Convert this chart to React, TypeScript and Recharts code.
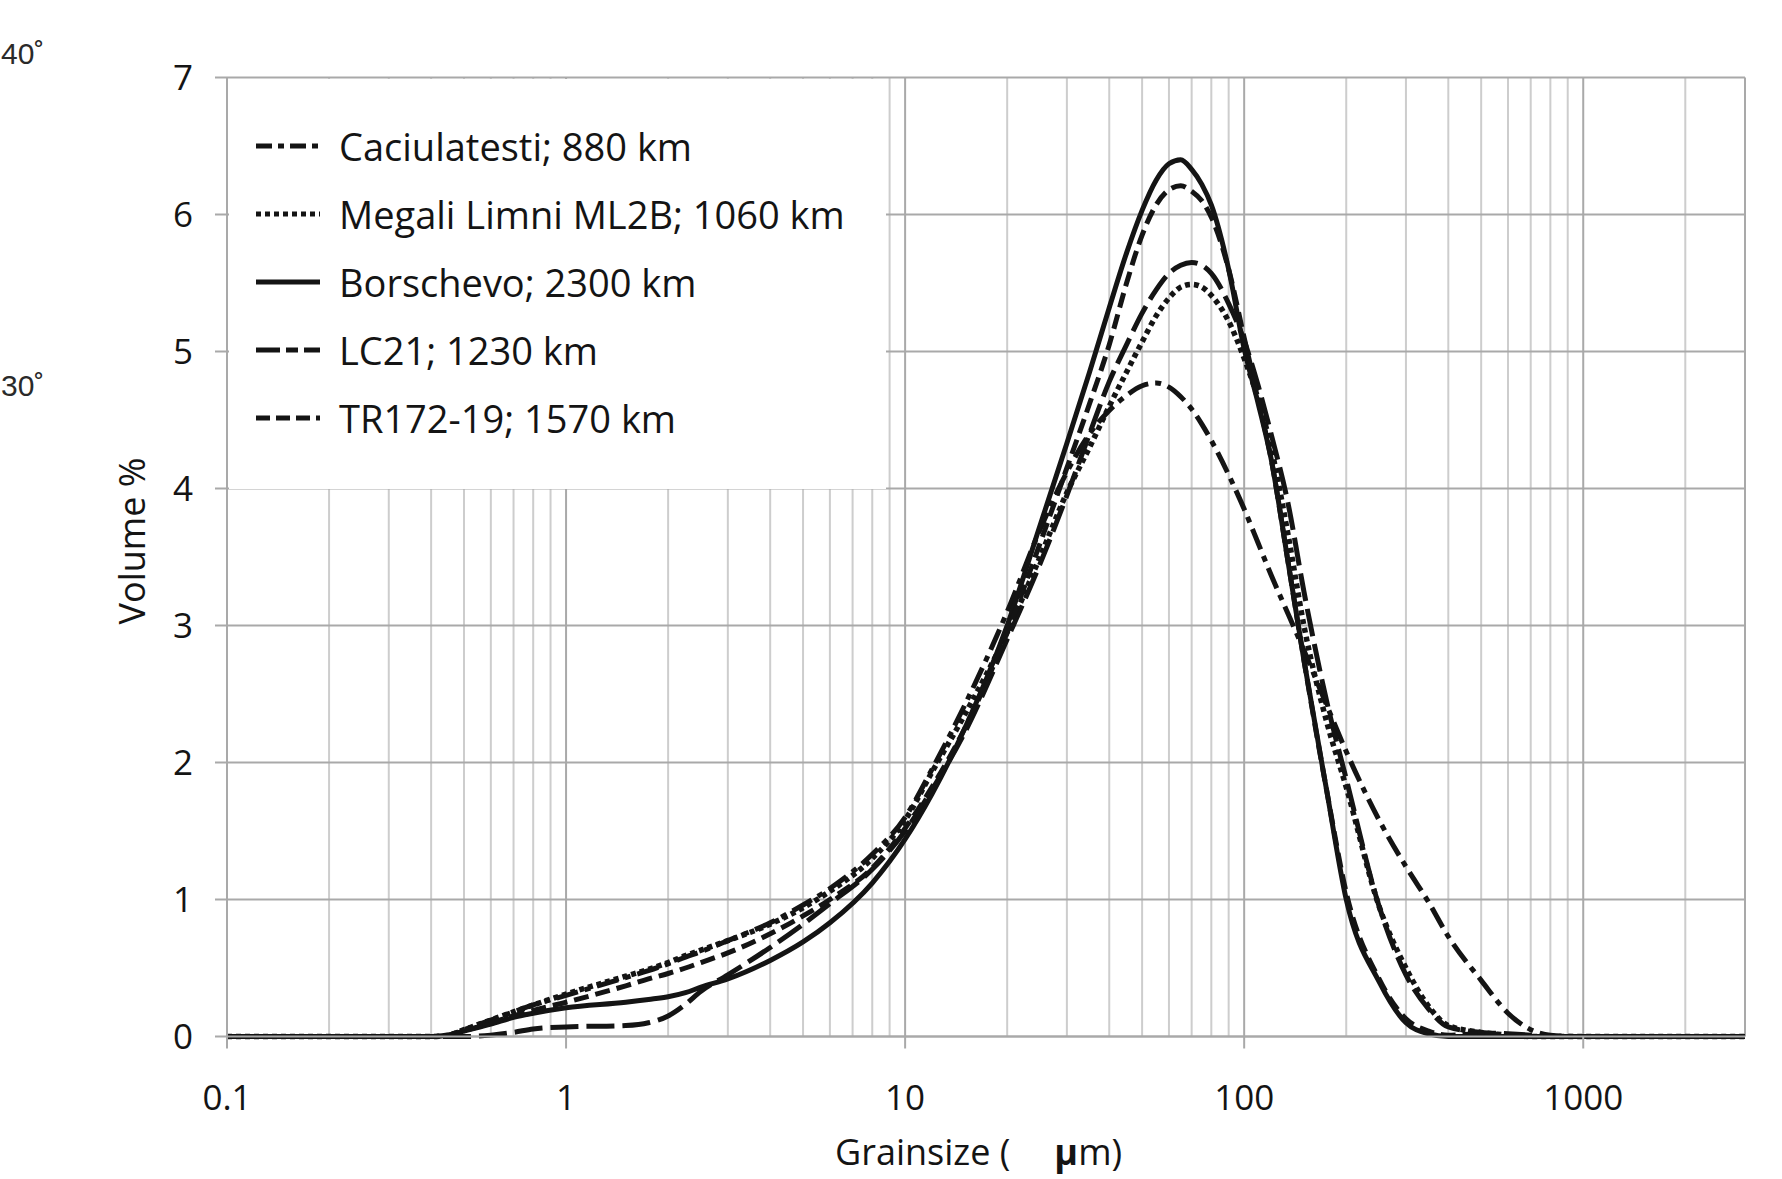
import React from 'react';
import { LineChart, Line, XAxis, YAxis, ReferenceLine } from 'recharts';

// grain size bins (µm) shared by every curve
const grainSize = [
  0.1, 0.2, 0.3, 0.4, 0.45, 0.5, 0.6, 0.7, 0.8, 1, 1.5, 1.75, 2, 2.25, 2.5, 3, 4, 5, 6, 8, 10, 12, 15, 20, 25, 30, 35,
  40, 45, 50, 55, 60, 65, 70, 75, 80, 90, 100, 110, 120, 135, 150, 175, 200, 250, 300, 350, 400, 500, 600, 700, 800,
  1000, 2000, 3000,
];

// volume % per bin
const caciulatesti = [
  0, 0, 0, 0, 0.01, 0.05, 0.12, 0.18, 0.23, 0.3, 0.43, 0.48, 0.53, 0.58, 0.62, 0.7, 0.83, 0.96, 1.08, 1.33, 1.6, 1.95, 2.42, 3.1, 3.7, 4.12, 4.4,
  4.57, 4.68, 4.75, 4.77, 4.74, 4.67, 4.58, 4.47, 4.35, 4.1, 3.85, 3.6, 3.37, 3.08, 2.82, 2.42, 2.08, 1.58, 1.24, 0.98, 0.73, 0.41, 0.17, 0.05, 0.01,
  0, 0, 0,
];
const megaliLimni = [
  0, 0, 0, 0, 0.01, 0.05, 0.12, 0.18, 0.23, 0.31, 0.44, 0.49, 0.54, 0.59, 0.63, 0.7, 0.82, 0.94, 1.06, 1.3, 1.58, 1.93, 2.35, 2.95, 3.5, 3.97, 4.3,
  4.6, 4.85, 5.07, 5.26, 5.39, 5.47, 5.49, 5.47, 5.41, 5.22, 4.95, 4.65, 4.3, 3.65, 3.0, 2.3, 1.82, 0.95, 0.5, 0.22, 0.08, 0.03, 0.01, 0, 0,
  0, 0, 0,
];
const borschevo = [
  0, 0, 0, 0, 0.01, 0.04, 0.09, 0.14, 0.17, 0.21, 0.25, 0.27, 0.29, 0.32, 0.36, 0.42, 0.555, 0.69, 0.83, 1.12, 1.44, 1.77, 2.25, 3.0, 3.73, 4.33, 4.85,
  5.32, 5.72, 6.03, 6.25, 6.37, 6.4, 6.33, 6.22, 6.07, 5.6, 5.02, 4.62, 4.22, 3.45, 2.75, 1.8, 1.0, 0.4, 0.1, 0.02, 0, 0, 0, 0, 0,
  0, 0, 0,
];
const lc21 = [
  0, 0, 0, 0, 0, 0, 0.01, 0.03, 0.055, 0.07, 0.08, 0.1, 0.15, 0.235, 0.33, 0.45, 0.65, 0.82, 0.97, 1.22, 1.5, 1.8, 2.22, 2.9, 3.45, 3.95, 4.4,
  4.78, 5.05, 5.28, 5.45, 5.57, 5.63, 5.65, 5.63, 5.57, 5.35, 5.08, 4.75, 4.4, 3.88, 3.25, 2.45, 1.88, 0.95, 0.45, 0.2, 0.07, 0.03, 0.02, 0.01, 0,
  0, 0, 0,
];
const tr172 = [
  0, 0, 0, 0, 0.01, 0.04, 0.1, 0.15, 0.19, 0.25, 0.37, 0.42, 0.46, 0.5, 0.54, 0.61, 0.75, 0.88, 1.0, 1.23, 1.52, 1.82, 2.25, 2.95, 3.6, 4.15, 4.62,
  5.05, 5.5, 5.85, 6.07, 6.18, 6.21, 6.17, 6.1, 5.98, 5.6, 5.1, 4.65, 4.22, 3.45, 2.75, 1.8, 1.05, 0.42, 0.13, 0.04, 0.01, 0.02, 0.01, 0, 0,
  0, 0, 0,
];

const seriesKeys = ['cac', 'meg', 'bor', 'lc', 'tr'];
const seriesNames = [
  'Caciulatesti; 880 km',
  'Megali Limni ML2B; 1060 km',
  'Borschevo; 2300 km',
  'LC21; 1230 km',
  'TR172-19; 1570 km',
];
const seriesDash = ['22 7 6 7', '5 4', '', '28 8', '15 7'];
const legendDash = ['16 6 6 6', '5 4', '', '24 6 12 6', '14 6'];

const xTicks = [0.1, 1, 10, 100, 1000];
const yTicks = [0, 1, 2, 3, 4, 5, 6, 7];
const minorX = [
  0.2, 0.3, 0.4, 0.5, 0.6, 0.7, 0.8, 0.9, 2, 3, 4, 5, 6, 7, 8, 9, 20, 30, 40, 50, 60, 70, 80, 90,
  200, 300, 400, 500, 600, 700, 800, 900, 2000,
];
const majorX = [1, 10, 100, 1000, 3000];

const rows = grainSize.map((size, i) => ({
  size,
  cac: caciulatesti[i],
  meg: megaliLimni[i],
  bor: borschevo[i],
  lc: lc21[i],
  tr: tr172[i],
}));

const FONT = '"Open Sans", "Noto Sans", sans-serif';
const INK = '#141414';
const GRID_MINOR = '#cdcdcd';
const GRID_MAJOR = '#a9a9a9';

const fmtX = (v: number) => (v < 1 ? String(v) : String(Math.round(v)));

export default function App() {
  return (
    <div style={{ position: 'absolute', left: 0, top: 0, width: 1782, height: 1179, background: '#fff' }}>
      <LineChart
        width={1782}
        height={1179}
        data={rows}
        margin={{ top: 77.5, right: 37, bottom: 82.5, left: 127 }}
      >
        {minorX.map((v) => (
          <ReferenceLine key={`mx-${v}`} x={v} stroke={GRID_MINOR} strokeWidth={2} />
        ))}
        {yTicks.map((v) => (
          <ReferenceLine key={`gy-${v}`} y={v} stroke={GRID_MAJOR} strokeWidth={2} />
        ))}
        {majorX.map((v) => (
          <ReferenceLine key={`Mx-${v}`} x={v} stroke={GRID_MAJOR} strokeWidth={2} />
        ))}
        <XAxis
          dataKey="size"
          type="number"
          scale="log"
          domain={[0.1, 3000]}
          allowDataOverflow
          ticks={xTicks}
          tickFormatter={fmtX}
          height={60}
          tickSize={12}
          tickMargin={37}
          axisLine={{ stroke: GRID_MAJOR, strokeWidth: 2 }}
          tickLine={{ stroke: GRID_MAJOR, strokeWidth: 2 }}
          tick={{ fill: INK, fontSize: 35, fontFamily: FONT }}
          label={{
            content: () => (
              <text x={835} y={1165} fill={INK} fontSize={36} fontFamily={FONT}>
                <tspan>Grainsize (</tspan>
                <tspan dx={44} fontWeight="bold">µ</tspan>
                <tspan>m)</tspan>
              </text>
            ),
          }}
        />
        <YAxis
          type="number"
          domain={[0, 7]}
          ticks={yTicks}
          width={100}
          tickSize={12}
          tickMargin={22}
          axisLine={{ stroke: GRID_MAJOR, strokeWidth: 2 }}
          tickLine={{ stroke: GRID_MAJOR, strokeWidth: 2 }}
          tick={{ fill: INK, fontSize: 35, fontFamily: FONT }}
          label={{
            content: () => (
              <text
                x={131}
                y={541}
                transform="rotate(-90, 131, 541)"
                textAnchor="middle"
                dominantBaseline="central"
                fill={INK}
                fontSize={36}
                fontFamily={FONT}
              >
                Volume %
              </text>
            ),
          }}
        />
        {seriesKeys.map((k, i) => (
          <Line
            key={k}
            dataKey={k}
            name={seriesNames[i]}
            type="monotone"
            stroke={INK}
            strokeWidth={i === 1 ? 5.5 : 5}
            strokeDasharray={seriesDash[i] || undefined}
            dot={false}
            activeDot={false}
            isAnimationActive={false}
          />
        ))}
      </LineChart>

      {/* legend box, sits over the grid in the upper left of the plot */}
      <div
        style={{
          position: 'absolute',
          left: 229,
          top: 79,
          width: 657,
          height: 410,
          background: '#fff',
        }}
      >
        {seriesNames.map((name, i) => (
          <div
            key={name}
            style={{
              position: 'absolute',
              left: 27,
              top: 66.5 + i * 68.2 - 25,
              height: 50,
              display: 'flex',
              alignItems: 'center',
              whiteSpace: 'nowrap',
            }}
          >
            <svg width={64} height={10} style={{ display: 'block' }}>
              <line
                x1={0}
                y1={5}
                x2={64}
                y2={5}
                stroke={INK}
                strokeWidth={5}
                strokeDasharray={legendDash[i] || undefined}
              />
            </svg>
            <span
              style={{
                marginLeft: 19,
                fontFamily: FONT,
                fontSize: 38,
                color: INK,
                lineHeight: '50px',
              }}
            >
              {name}
            </span>
          </div>
        ))}
      </div>

      {/* latitude marks left over from the map crop */}
      <svg
        width={80}
        height={420}
        style={{ position: 'absolute', left: 0, top: 0 }}
      >
        <text x={1} y={64} fontSize={30} fill="#2a2a2a" fontFamily='"Liberation Sans", Arial, sans-serif'>
          40˚
        </text>
        <text x={1} y={396} fontSize={30} fill="#2a2a2a" fontFamily='"Liberation Sans", Arial, sans-serif'>
          30˚
        </text>
      </svg>
    </div>
  );
}
